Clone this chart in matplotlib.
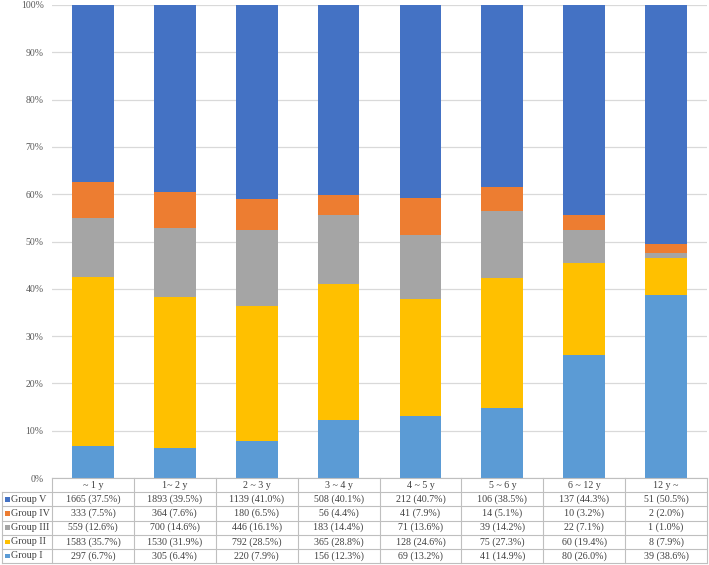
import matplotlib
matplotlib.use("Agg")
import matplotlib.pyplot as plt
from matplotlib.patches import Rectangle
import numpy as np

categories = ["~ 1 y", "1~ 2 y", "2 ~ 3 y", "3 ~ 4 y", "4 ~ 5 y", "5 ~ 6 y", "6 ~ 12 y", "12 y ~"]
groups = ["Group I", "Group II", "Group III", "Group IV", "Group V"]
colors = ["#5B9BD5", "#FFC000", "#A5A5A5", "#ED7D31", "#4472C4"]

counts_I = [297, 305, 220, 156, 69, 41, 80, 39]
counts_II = [1583, 1530, 792, 365, 128, 75, 60, 8]
counts_III = [559, 700, 446, 183, 71, 39, 22, 1]
counts_IV = [333, 364, 180, 56, 41, 14, 10, 2]
counts_V = [1665, 1893, 1139, 508, 212, 106, 137, 51]

pct_I = [6.7, 6.4, 7.9, 12.3, 13.2, 14.9, 26.0, 38.6]
pct_II = [35.7, 31.9, 28.5, 28.8, 24.6, 27.3, 19.4, 7.9]
pct_III = [12.6, 14.6, 16.1, 14.4, 13.6, 14.2, 7.1, 1.0]
pct_IV = [7.5, 7.6, 6.5, 4.4, 7.9, 5.1, 3.2, 2.0]
pct_V = [37.5, 39.5, 41.0, 40.1, 40.7, 38.5, 44.3, 50.5]

counts = [counts_I, counts_II, counts_III, counts_IV, counts_V]
pcts = [pct_I, pct_II, pct_III, pct_IV, pct_V]

plt.rcParams['font.family'] = ['Liberation Serif', 'DejaVu Serif']

W, H = 709, 565
fig = plt.figure(figsize=(W / 100, H / 100), dpi=100)

left_px, right_px, top_px, bottom_px = 52, 707, 5, 478
ax = fig.add_axes([left_px / W, 1 - bottom_px / H, (right_px - left_px) / W, (bottom_px - top_px) / H])

x = np.arange(len(categories))
bottom = np.zeros(len(categories))
for g, p, c in zip(groups, pcts, colors):
    vals = np.array(p) / 100.0
    ax.bar(x, vals, bottom=bottom, width=0.51, color=c, zorder=3, label=g)
    bottom += vals

ax.set_xlim(-0.5, len(categories) - 0.5)
ax.set_ylim(0, 1.0)
ticks = np.arange(0, 1.01, 0.1)
ax.set_yticks(ticks)
ax.set_yticklabels([f"{int(round(v*100))}%" for v in ticks], fontsize=7, color="#595959")
ax.yaxis.grid(True, color="#D9D9D9", linewidth=0.9, zorder=0)
ax.set_xticks([])
for s in ax.spines.values():
    s.set_visible(False)
ax.tick_params(axis='y', length=0, pad=6)

# Table
border = "#BFBFBF"
tab_left_px = 2
unit_px = (right_px - left_px) / len(categories)
tab = fig.add_axes([tab_left_px / W, 1 - 563 / H, (right_px - tab_left_px) / W, (563 - bottom_px) / H])
xl = -0.5 - (left_px - tab_left_px) / unit_px
tab.set_xlim(xl, len(categories) - 0.5)
nrows = 6
tab.set_ylim(nrows, 0)
tab.axis('off')
row_px = (563 - bottom_px) / nrows

lw = 0.8
tab.plot([-0.5, len(categories) - 0.5], [0, 0], color=border, lw=lw, clip_on=False)
for r in range(1, nrows + 1):
    tab.plot([xl, len(categories) - 0.5], [r, r], color=border, lw=lw, clip_on=False)
tab.plot([xl, xl], [1, nrows], color=border, lw=lw, clip_on=False)
for i in range(len(categories) + 1):
    tab.plot([i - 0.5, i - 0.5], [0, nrows], color=border, lw=lw, clip_on=False)

fs = 7.2
tcol = "#404040"
for i, cat in enumerate(categories):
    tab.text(i, 0.5, cat, ha='center', va='center', fontsize=fs, color=tcol)

row_order = [4, 3, 2, 1, 0]
sq_w = 4.5 / unit_px
sq_h = 4.5 / row_px
for r, gi in enumerate(row_order, start=1):
    tab.add_patch(Rectangle((xl + 3 / unit_px, r + 0.5 - sq_h / 2), sq_w, sq_h,
                            facecolor=colors[gi], edgecolor='none', clip_on=False))
    tab.text(xl + 9 / unit_px, r + 0.5, groups[gi], ha='left', va='center',
             fontsize=fs, color=tcol)
    for i in range(len(categories)):
        tab.text(i, r + 0.5, f"{counts[gi][i]} ({pcts[gi][i]:.1f}%)", ha='center', va='center',
                 fontsize=fs, color=tcol)

fig.savefig("out.png", dpi=100)
